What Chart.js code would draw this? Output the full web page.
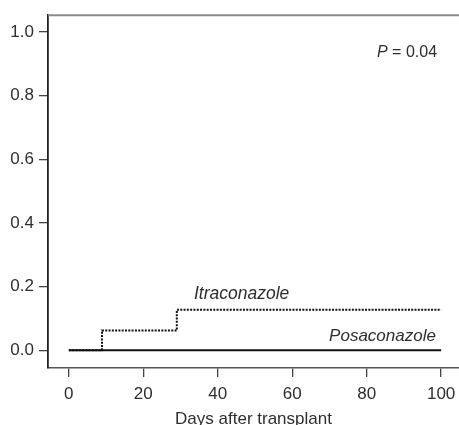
<!DOCTYPE html>
<html>
<head>
<meta charset="utf-8">
<script src="https://cdn.jsdelivr.net/npm/chart.js@4/dist/chart.umd.min.js"></script>
<style>
  html, body { margin: 0; padding: 0; background: #fff; }
  #chart { display: block; }
</style>
</head>
<body>
<canvas id="chart" width="459" height="425"></canvas>
<script>
// cumulative incidence, days after transplant
const itraDays = [0, 8.9, 29, 100];
const itraCum  = [0, 0.062, 0.127, 0.127];
const posaDays = [0, 100];
const posaCum  = [0, 0];

const xTicks = [0, 20, 40, 60, 80, 100];
const yTicks = [0, 0.2, 0.4, 0.6, 0.8, 1.0];

const fontFamily = "'Liberation Sans', Arial, Helvetica, sans-serif";
const textColor = '#2e2e2e';

function toPoints(xs, ys) {
    return xs.map((x, i) => ({ x: x, y: ys[i] }));
}

// open frame top line + curve labels
const annotate = {
    id: 'annotate',
    afterDraw(chart) {
        const { ctx, chartArea: { left, right, top } } = chart;
        const x = chart.scales.x, y = chart.scales.y;
        ctx.save();
        ctx.beginPath();
        ctx.strokeStyle = '#8a8a8a';
        ctx.lineWidth = 2;
        ctx.moveTo(left, top);
        ctx.lineTo(right, top);
        ctx.stroke();

        ctx.fillStyle = textColor;
        ctx.textBaseline = 'alphabetic';
        ctx.font = 'italic 17.5px ' + fontFamily;
        ctx.textAlign = 'left';
        ctx.fillText('Itraconazole', x.getPixelForValue(33.6), y.getPixelForValue(0.16));
        ctx.font = 'italic 17px ' + fontFamily;
        ctx.textAlign = 'right';
        ctx.fillText('Posaconazole', x.getPixelForValue(98.6), y.getPixelForValue(0.028));

        const pv = ' = 0.04';
        ctx.font = '16px ' + fontFamily;
        const w = ctx.measureText(pv).width;
        const px = x.getPixelForValue(98.9), py = y.getPixelForValue(0.922);
        ctx.fillText(pv, px, py);
        ctx.font = 'italic 16px ' + fontFamily;
        ctx.fillText('P', px - w, py);
        ctx.restore();
    }
};

new Chart(document.getElementById('chart'), {
    type: 'line',
    data: {
        datasets: [{
            label: 'Itraconazole',
            data: toPoints(itraDays, itraCum),
            stepped: 'before',
            borderColor: '#111',
            borderWidth: 2,
            borderDash: [2, 1.3],
            pointRadius: 0,
            fill: false
        }, {
            label: 'Posaconazole',
            data: toPoints(posaDays, posaCum),
            borderColor: '#111',
            borderWidth: 2,
            pointRadius: 0,
            fill: false
        }]
    },
    options: {
        responsive: false,
        animation: false,
        layout: { padding: { top: 13, right: 0, left: 0, bottom: 0 } },
        plugins: {
            legend: { display: false },
            tooltip: { enabled: false }
        },
        scales: {
            x: {
                type: 'linear',
                min: -5.6,
                max: 104.8,
                afterBuildTicks: (scale) => { scale.ticks = xTicks.map(v => ({ value: v })); },
                afterFit: (scale) => {
                    scale.height = 57;
                    scale.paddingLeft = 0;
                    scale.paddingRight = 0;
                },
                grid: { drawOnChartArea: false, tickLength: 9, color: '#444', lineWidth: 1.3 },
                border: { display: true, color: '#555', width: 1.5 },
                ticks: {
                    padding: 7,
                    color: textColor,
                    font: { family: fontFamily, size: 17 },
                    maxRotation: 0,
                    callback: (v) => String(v)
                },
                title: {
                    display: true,
                    text: 'Days after transplant',
                    color: textColor,
                    font: { family: fontFamily, size: 17 },
                    padding: { top: 4, bottom: -5 }
                }
            },
            y: {
                type: 'linear',
                min: -0.056,
                max: 1.053,
                afterBuildTicks: (scale) => { scale.ticks = yTicks.map(v => ({ value: v })); },
                afterFit: (scale) => { scale.width = 48; },
                grid: { drawOnChartArea: false, tickLength: 9, color: '#444', lineWidth: 1.3 },
                border: { display: true, color: '#222', width: 1.8 },
                ticks: {
                    padding: 5,
                    color: textColor,
                    font: { family: fontFamily, size: 17 },
                    callback: (v) => v.toFixed(1)
                }
            }
        }
    },
    plugins: [annotate]
});
</script>
</body>
</html>
